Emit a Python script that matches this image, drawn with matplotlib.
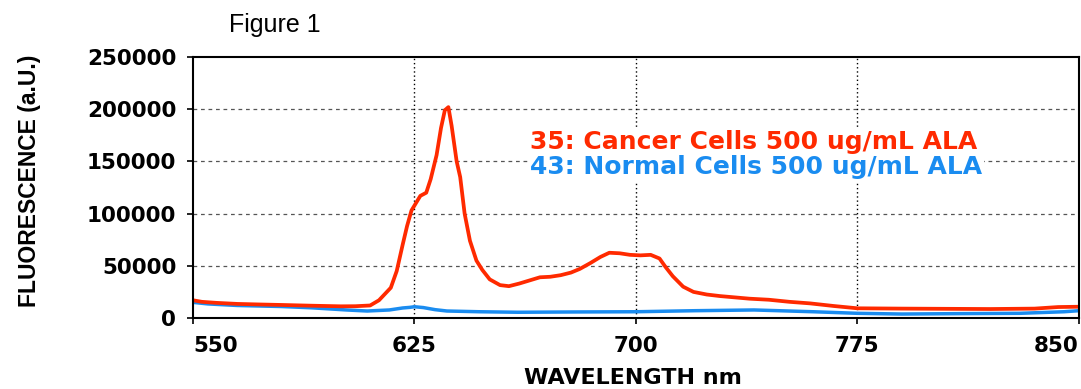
import numpy as np
import matplotlib
matplotlib.use('Agg')
import matplotlib.pyplot as plt

# values
wl_cancer = [550, 553, 558, 565, 572, 580, 590, 600, 605, 610, 613, 615, 617, 619,
             621, 622.5, 624, 625.5, 627, 629, 630.5, 632.5, 634, 635.3, 636.5,
             637.6, 639.3, 640.5, 642, 643.8, 646, 648, 650.5, 654, 657, 660.5,
             664, 667.5, 671, 674.5, 678, 681, 684.5, 688, 691, 694.5, 698, 701.5,
             705, 708, 710, 712.5, 716, 719.5, 724, 728.5, 738.5, 745, 752, 759,
             767, 775, 790, 805, 820, 835, 843, 850]
fl_cancer = [17000, 15500, 14500, 13500, 13000, 12500, 11800, 11200, 11300, 12000,
             17000, 23000, 29000, 45000, 70000, 88000, 103000, 110000, 117000,
             120000, 133000, 156000, 182000, 199000, 202000, 184000, 150000,
             135000, 100000, 74000, 55000, 46000, 37000, 31500, 30500, 33000,
             36000, 39000, 39500, 41000, 43500, 47000, 52500, 58500, 62500, 62000,
             60500, 60000, 60500, 57000, 49000, 40000, 30000, 25000, 22500, 21000,
             18500, 17500, 15500, 14000, 11500, 9300, 9000, 8800, 8600, 9000,
             10500, 10800]

wl_normal = [550, 555, 565, 580, 590, 602, 609, 616.5, 621, 623.5, 625, 628, 632,
             636, 647, 660, 680, 700, 720, 740, 760, 775, 790, 810, 830, 845, 850]
fl_normal = [15000, 13500, 12000, 11000, 9800, 7700, 6700, 7700, 9600, 10200,
             10800, 10000, 8000, 6700, 6000, 5500, 5800, 6000, 7000, 7700, 6000,
             4500, 3800, 4200, 4500, 6000, 7000]

x_ticks = [550, 625, 700, 775, 850]
y_ticks = [0, 50000, 100000, 150000, 200000, 250000]
label_cancer = "35: Cancer Cells 500 ug/mL ALA"
label_normal = "43: Normal Cells 500 ug/mL ALA"

red = '#ff2a00'
blue = '#1a8cf0'

fig = plt.figure(figsize=(10.81, 3.89), dpi=100)
ax = fig.add_axes([0.1785, 0.1825, 0.8195, 0.671])

ax.plot(wl_normal, fl_normal, color=blue, lw=2.5, zorder=3)
ax.plot(wl_cancer, fl_cancer, color=red, lw=2.7, zorder=4)

ax.set_xlim(550, 850)
ax.set_ylim(0, 250000)
ax.set_xticks(x_ticks)
ax.set_yticks(y_ticks)

# grid lines
for v in y_ticks[1:-1]:
    ax.axhline(v, color='#555555', lw=0.9, ls=(0, (3, 3)), zorder=1)
for v in x_ticks[1:-1]:
    ax.axvline(v, color='black', lw=1.0, ls=(0, (1, 2)), zorder=1)

for s in ax.spines.values():
    s.set_linewidth(1.5)
    s.set_zorder(5)

tick_font = dict(family='DejaVu Sans', weight='bold', size=15.5)
ax.set_yticklabels([str(v) for v in y_ticks], fontdict=tick_font)
ax.set_xticklabels([str(v) for v in x_ticks], fontdict=tick_font)
ax.tick_params(axis='both', direction='out', length=4, width=1.2)
ax.tick_params(axis='y', pad=8)
ax.tick_params(axis='x', pad=9)
xl = ax.get_xticklabels()
xl[0].set_ha('left')
xl[-1].set_ha('right')

ax.set_ylabel("FLUORESCENCE (a.U.)", family='Liberation Sans',
              weight='bold', size=16.5)
ax.yaxis.set_label_coords(-0.172, 0.525)
ax.set_xlabel("WAVELENGTH nm", family='DejaVu Sans', weight='bold', size=16)
ax.xaxis.label.set_va('baseline')
ax.xaxis.set_label_coords(0.497, -0.253)

box = dict(facecolor='white', edgecolor='none', pad=1)
ax.text(664.1, 168600, label_cancer, color=red, family='DejaVu Sans',
        weight='bold', size=18, va='center', ha='left', bbox=box, zorder=6)
ax.text(664.1, 144600, label_normal, color=blue, family='DejaVu Sans',
        weight='bold', size=18, va='center', ha='left', bbox=box, zorder=6)

fig.text(275 / 1081, 1 - 25 / 389, "Figure 1", family='Liberation Sans',
         size=18, ha='center', va='center')

fig.savefig('out.png', dpi=100)
